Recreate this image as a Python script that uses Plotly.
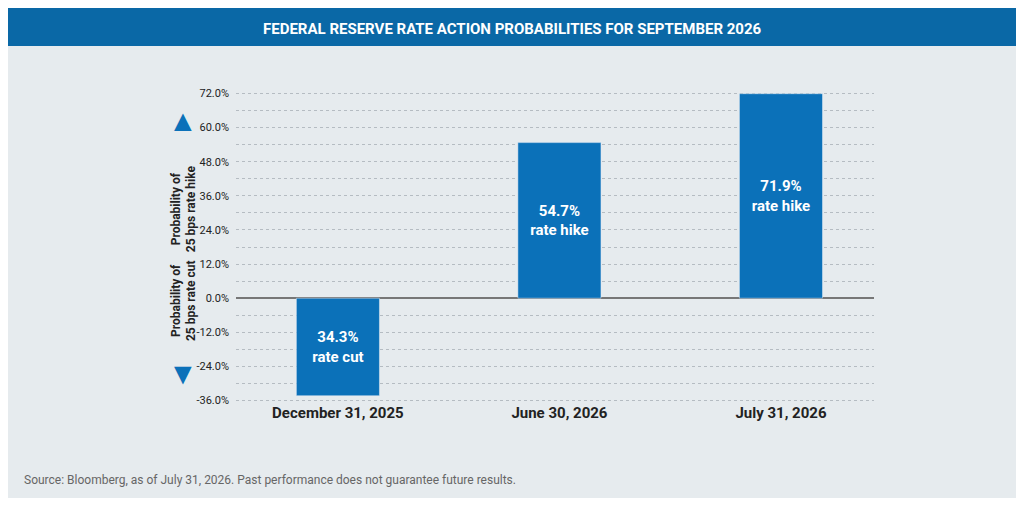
import plotly.graph_objects as go

dates = ['December 31, 2025', 'June 30, 2026', 'July 31, 2026']
values = [-34.3, 54.7, 71.9]
labels = ['34.3%<br>rate cut', '54.7%<br>rate hike', '71.9%<br>rate hike']
tick_vals = [72, 60, 48, 36, 24, 12, 0, -12, -24, -36]

blue = '#0b71b9'
bg = '#e6ebee'

fig = go.Figure(go.Bar(
    x=dates, y=values, text=labels, textposition='inside', insidetextanchor='middle',
    textfont=dict(family='Roboto', size=15, color='white', weight='bold'),
    marker=dict(color=blue), width=0.375, hoverinfo='skip',
))

fig.update_layout(
    paper_bgcolor=bg, plot_bgcolor=bg,
    margin=dict(l=228, r=142, t=84, b=96),
    font=dict(family='Roboto', color='#222'),
    showlegend=False,
    xaxis=dict(range=[-0.46, 2.42], showgrid=False, tickfont=dict(size=15, weight='bold'), ticks=''),
    yaxis=dict(range=[-36.5, 72.5], tickvals=tick_vals, ticktext=['%.1f%%' % v for v in tick_vals],
               showgrid=True, gridcolor='#b5bcc2', griddash='dot', gridwidth=1,
               minor=dict(dtick=6, tick0=0, showgrid=True, gridcolor='#b5bcc2', griddash='dot'),
               zeroline=True, zerolinecolor='#777777', zerolinewidth=1.5,
               tickfont=dict(size=11), ticklabelstandoff=6),
    shapes=[
        dict(type='rect', xref='paper', yref='paper', x0=-1, x1=2, y0=1.148, y1=1.5,
             fillcolor='#0a68a6', line=dict(width=0)),
    ],
    annotations=[
        dict(text='FEDERAL RESERVE RATE ACTION PROBABILITIES FOR SEPTEMBER 2026', xref='paper', yref='paper',
             x=0.5, y=1.202, xanchor='center', yanchor='middle', showarrow=False,
             xshift=-43, font=dict(size=15, color='white', weight='bold')),
        dict(text='▲', xref='paper', yref='paper', x=-0.109, y=0.97, showarrow=False,
             font=dict(size=30, color=blue)),
        dict(text='▼', xref='paper', yref='paper', x=-0.109, y=0.03, showarrow=False,
             font=dict(size=30, color=blue)),
        dict(text='Probability of<br>25 bps rate hike', xref='paper', yref='paper', x=-0.109, y=0.77,
             textangle=-90, showarrow=False, font=dict(size=12, weight='bold')),
        dict(text='Probability of<br>25 bps rate cut', xref='paper', yref='paper', x=-0.109, y=0.19,
             textangle=-90, showarrow=False, font=dict(size=12, weight='bold')),
        dict(text='Source: Bloomberg, as of July 31, 2026. Past performance does not guarantee future results.',
             xref='paper', yref='paper', x=-0.335, y=-0.25, xanchor='left', yanchor='middle',
             showarrow=False, font=dict(size=12, color='#666')),
    ],
)

fig.write_html('out.html')
